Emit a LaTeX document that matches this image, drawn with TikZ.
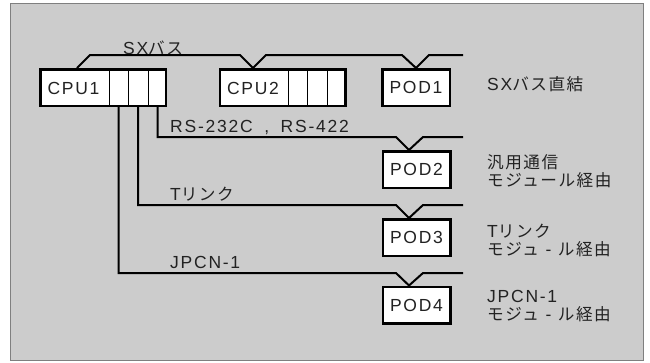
\documentclass[tikz,border=0pt]{standalone}
\usepackage{fontspec}
\setmainfont{Liberation Sans}[LetterSpace=10]
\newfontfamily\jpfont{Noto Sans CJK JP}[Scale=0.95,LetterSpace=9]
\usepackage{tikz}
\usetikzlibrary{calc}

\definecolor{panel}{HTML}{CCCCCC}
\definecolor{frame}{HTML}{7F7F7F}
\definecolor{ink}{HTML}{222222}
\newcommand{\jp}[1]{{\jpfont #1}}

\tikzset{
  unit/.style={draw,line width=2.5pt,fill=white,minimum height=36.5pt,inner sep=0pt},
  cpubox/.style={unit,minimum width=125.5pt},
  podbox/.style={unit,minimum width=67.5pt,text=ink,font=\fontsize{17.5}{18}\selectfont},
  conn/.style={line width=2pt,line join=miter},
  txt/.style={inner sep=0pt,text=ink,font=\fontsize{17.5}{18}\selectfont},
  side/.style={txt,anchor=west,align=left}
}

\begin{document}
\begin{tikzpicture}[x=1pt,y=-1pt]
\useasboundingbox (0,0) rectangle (650,362);
\draw[frame,fill=panel] (10,3) rectangle (643,360);
% units
\node[cpubox] (cpu1) at (103,87.5) {};
\node[cpubox] (cpu2) at (282.5,87.5) {};
\foreach \d in {109,128,148} \draw[thin] (\d,68) -- (\d,107);
\foreach \d in {288,307,327} \draw[thin] (\d,68) -- (\d,107);
\node[txt] (cpu1l) at (73.5,88) {CPU1};
\node[txt] (cpu2l) at (253,88) {CPU2};
\node[podbox] (pod1) at (416,87.5) {POD1};
\node[podbox] (pod2) at (416.5,169.5) {POD2};
\node[podbox] (pod3) at (416.5,237.5) {POD3};
\node[podbox] (pod4) at (416.5,305) {POD4};
% slot taps
\coordinate (s1) at (118.5,107);
\coordinate (s2) at (138,107);
\coordinate (s3) at (157.5,107);
\coordinate (busend) at (463,0);
% SX bus
\draw[conn] ($(cpu1.north west)+(38,0)$) -- (90,55) -- (240,55) -- (cpu2l |- cpu2.north)
  -- (266,55) -- (402,55) -- (pod1.north) -- (429,55) -- (busend |- 0,55);
% links to the POD modules
\draw[conn] (s3) |- (396,137) -- ($(pod2.north)+(-7.5,0)$) -- (423,137) -- (busend |- 0,137);
\draw[conn] (s2) |- (396,205) -- ($(pod3.north)+(-7.5,0)$) -- (423,205) -- (busend |- 0,205);
\draw[conn] (s1) |- (396,273) -- ($(pod4.north)+(-7.5,0)$) -- (423,273) -- (busend |- 0,273);
% line labels
\node[txt] (sxl) at (153,47.5) {SX\jp{バス}};
\node[txt,anchor=west] (rsl) at (170,127.5) {RS-232C\hspace{5pt} , \hspace{5pt}RS-422};
\node[txt,anchor=west] (tl) at (170,194.5) {T\jp{リンク}};
\node[txt,anchor=west] (jl) at (170,262.5) {JPCN-1};
% side notes
\node[side] (n1) at (487,84) {SX\jp{バス直結}};
\node[side] (n2) at (487,171) {\jp{汎用通信}\\\jp{モジュール経由}};
\node[side] (n3) at (487,240) {T\jp{リンク}\\\jp{モジュ} - \jp{ル経由}};
\node[side] (n4) at (487,306.5) {JPCN-1\\\jp{モジュ} - \jp{ル経由}};
\end{tikzpicture}
\end{document}
